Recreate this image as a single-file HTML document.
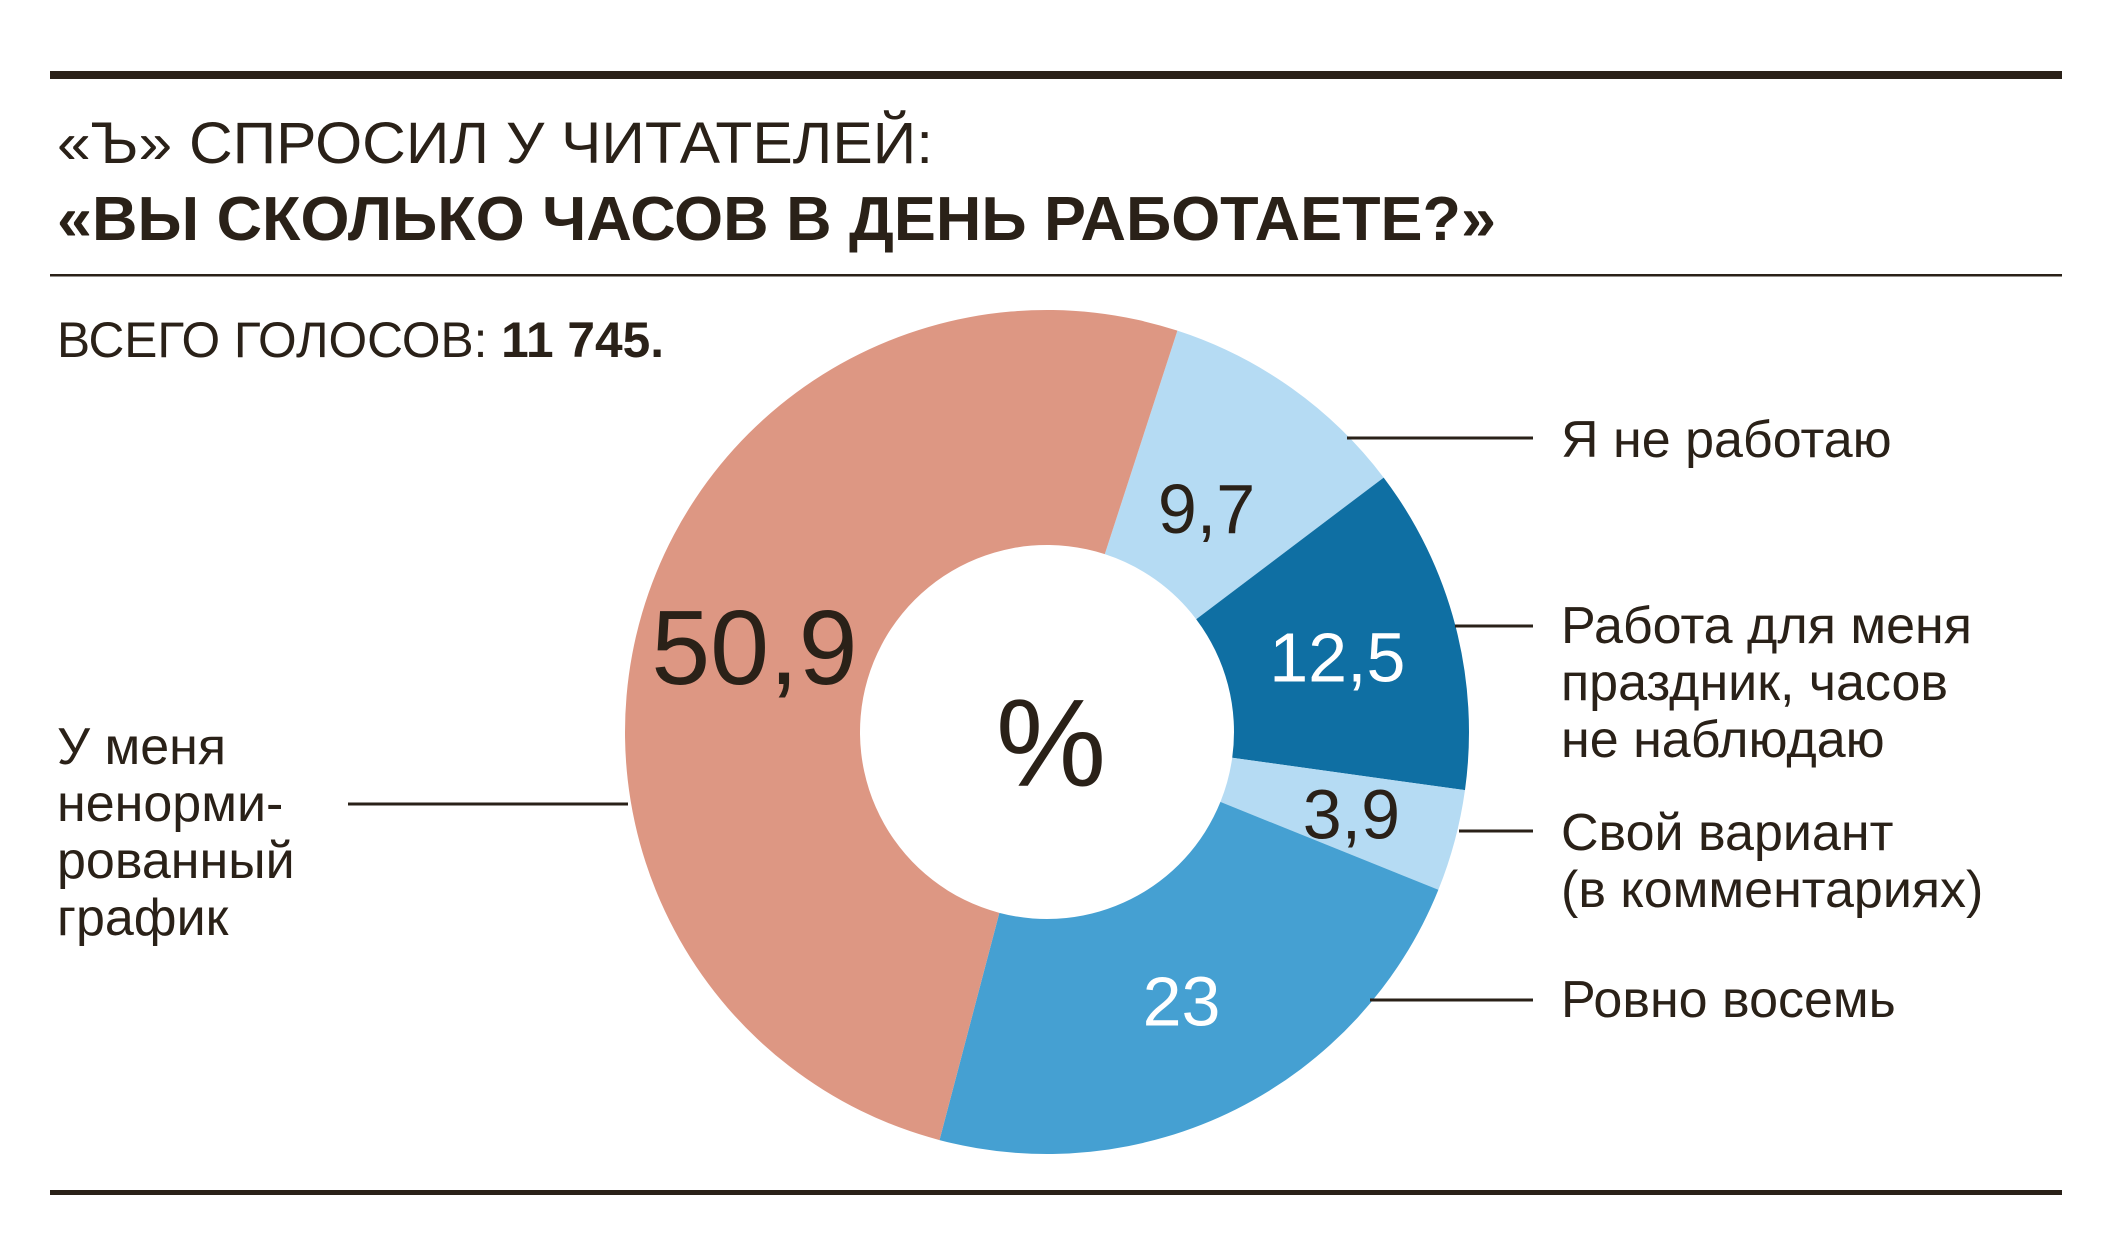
<!DOCTYPE html>
<html><head><meta charset="utf-8"><style>
html,body{margin:0;padding:0;background:#fff;width:2106px;height:1260px;overflow:hidden}
svg text{font-family:"Liberation Sans","DejaVu Sans",sans-serif;fill:#2a2118}
</style></head><body>
<svg id="chart" width="2106" height="1260" viewBox="0 0 2106 1260">
<rect x="50" y="71" width="2012" height="8" fill="#2a2118"/>
<text x="57" y="163" font-size="58" textLength="876" lengthAdjust="spacingAndGlyphs">«Ъ» СПРОСИЛ У ЧИТАТЕЛЕЙ:</text>
<text x="57" y="240" font-size="62" font-weight="bold" textLength="1439" lengthAdjust="spacingAndGlyphs">«ВЫ СКОЛЬКО ЧАСОВ В ДЕНЬ РАБОТАЕТЕ?»</text>
<rect x="50" y="274" width="2012" height="2.5" fill="#2a2118"/>
<text x="57" y="357" font-size="50" textLength="607" lengthAdjust="spacingAndGlyphs">ВСЕГО ГОЛОСОВ: <tspan font-weight="bold">11 745.</tspan></text>
<g id="slices"></g>
<text x="1051" y="786" font-size="124" text-anchor="middle">%</text>
<g id="labels"></g>
<rect x="50" y="1190" width="2012" height="5" fill="#2a2118"/>
</svg>
<script>
const categories = ["Я не работаю","Работа для меня праздник, часов не наблюдаю","Свой вариант (в комментариях)","Ровно восемь","У меня ненормированный график"];
const values = [9.7, 12.5, 3.9, 23, 50.9];
const valueLabels = ["9,7","12,5","3,9","23","50,9"];
const colors = ["#b5dbf3","#0f6fa3","#b5dbf3","#45a0d2","#dd9783"];
const textColors = ["#2a2118","#ffffff","#2a2118","#ffffff","#2a2118"];
const NS = "http://www.w3.org/2000/svg";
const cx = 1047, cy = 732, R = 422, r = 187, startDeg = 18;
const total = values.reduce((a,b)=>a+b,0);
function pt(deg, rad){const a=(deg-90)*Math.PI/180;return [cx+rad*Math.cos(a), cy+rad*Math.sin(a)];}
const slicesG = document.getElementById('slices');
const labelsG = document.getElementById('labels');
let acc = startDeg;
const labelRad = [275, 300, 315, 300, 305];
const labelSize = [70, 70, 70, 70, 106];
values.forEach((v,i)=>{
  const a0 = acc, a1 = acc + v/total*360; acc = a1;
  const large = (a1-a0) > 180 ? 1 : 0;
  const p0 = pt(a0,R), p1 = pt(a1,R), q1 = pt(a1,r), q0 = pt(a0,r);
  const path = document.createElementNS(NS,'path');
  path.setAttribute('d',`M${p0[0]},${p0[1]} A${R},${R} 0 ${large} 1 ${p1[0]},${p1[1]} L${q1[0]},${q1[1]} A${r},${r} 0 ${large} 0 ${q0[0]},${q0[1]} Z`);
  path.setAttribute('fill',colors[i]);
  
  
  slicesG.appendChild(path);
  const mid = (a0+a1)/2;
  const lp = pt(mid, labelRad[i]);
  const t = document.createElementNS(NS,'text');
  t.setAttribute('x', lp[0]); t.setAttribute('y', lp[1] + labelSize[i]*0.36);
  t.setAttribute('text-anchor','middle');
  t.setAttribute('font-size', labelSize[i]);
  t.setAttribute('style','fill:'+textColors[i]);
  
  
  t.textContent = valueLabels[i];
  labelsG.appendChild(t);
});
// category labels with leader lines
const catLines = [["Я не работаю"],["Работа для меня","праздник, часов","не наблюдаю"],["Свой вариант","(в комментариях)"],["Ровно восемь"],["У меня","ненорми-","рованный","график"]];
const catPos = [[1561,457],[1561,643],[1561,850],[1561,1017],[57,764]];
const leaders = [[1347,438,1533],[1455,626,1533],[1459,831,1533],[1370,1000,1533],[348,804,628]];
catLines.forEach((lines,i)=>{
  const t = document.createElementNS(NS,'text');
  t.setAttribute('font-size','52');
  
  
  lines.forEach((s,j)=>{
    const ts = document.createElementNS(NS,'tspan');
    ts.setAttribute('x', catPos[i][0]);
    ts.setAttribute('y', catPos[i][1] + j*57);
    ts.textContent = s;
    t.appendChild(ts);
  });
  labelsG.appendChild(t);
  const l = document.createElementNS(NS,'line');
  l.setAttribute('x1', leaders[i][0]); l.setAttribute('x2', leaders[i][2]);
  l.setAttribute('y1', leaders[i][1]); l.setAttribute('y2', leaders[i][1]);
  l.setAttribute('stroke','#2a2118'); l.setAttribute('stroke-width','3');
  
  
  labelsG.appendChild(l);
});
</script>
</body></html>
